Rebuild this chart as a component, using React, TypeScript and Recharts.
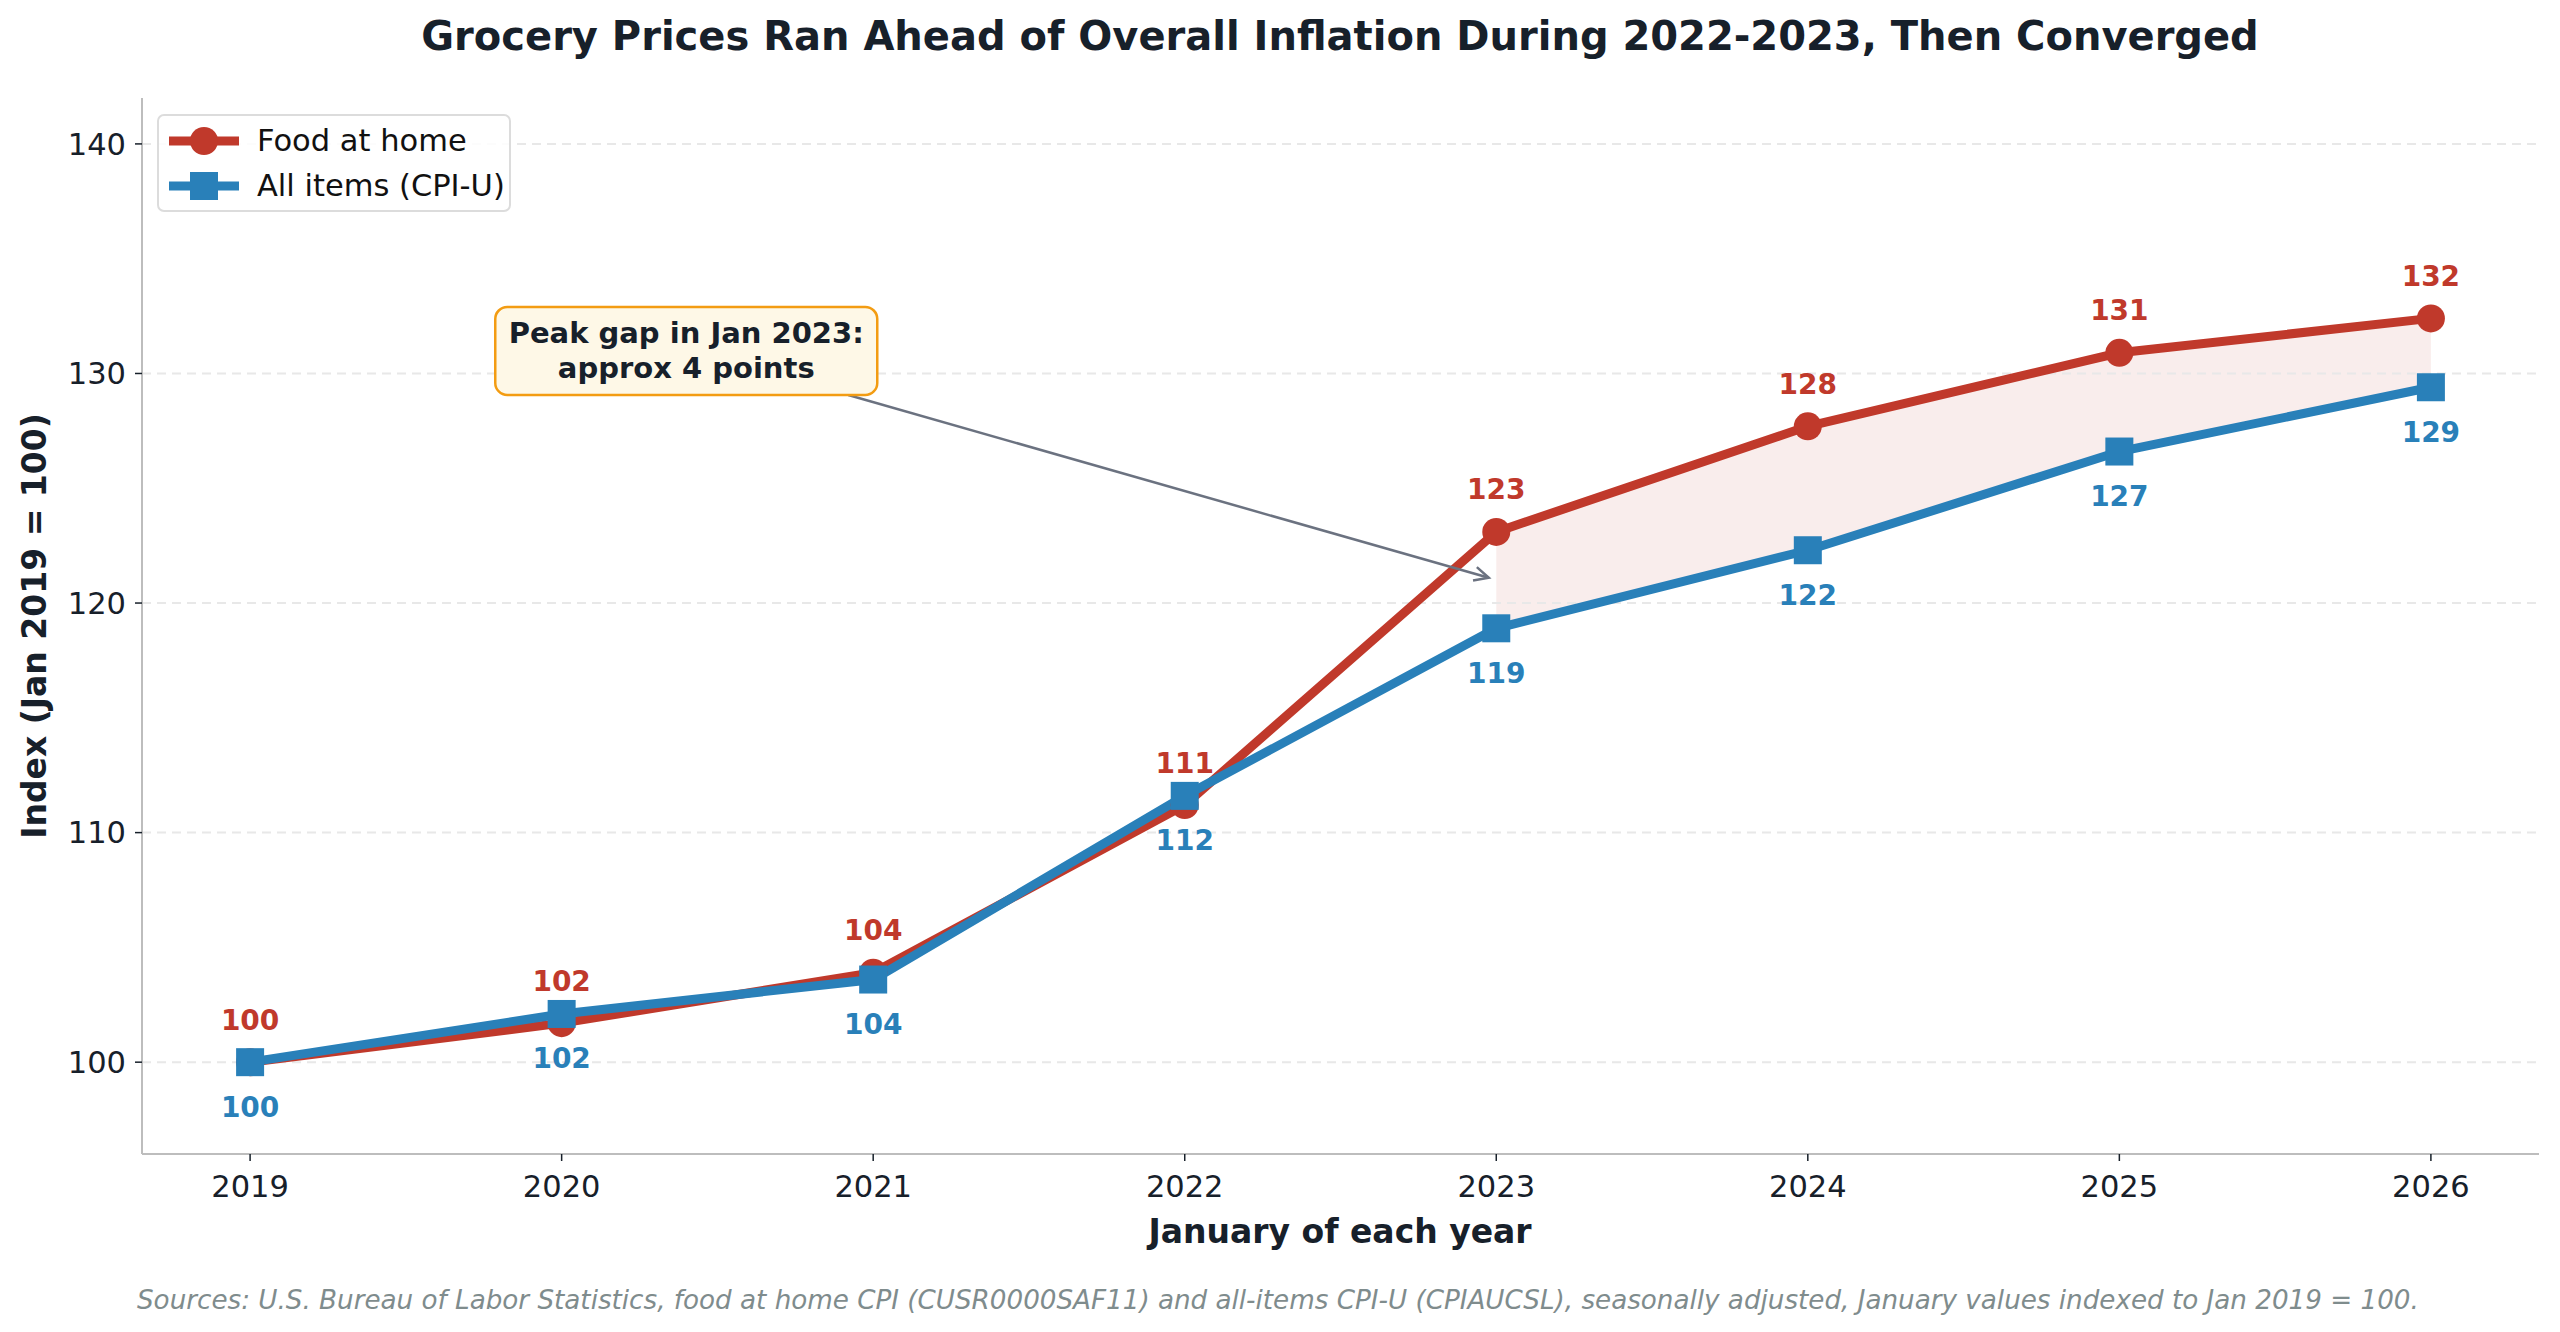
import React from 'react'
import {
  ComposedChart,
  Line,
  Area,
  XAxis,
  YAxis,
  ReferenceLine,
  ReferenceDot,
  LabelList,
} from 'recharts'

const YEARS = [2019, 2020, 2021, 2022, 2023, 2024, 2025, 2026]
const FOOD_AT_HOME = [100, 101.7, 103.9, 111.2, 123.1, 127.7, 130.9, 132.4]
const ALL_ITEMS = [100, 102.1, 103.6, 111.6, 118.9, 122.3, 126.6, 129.4]
const Y_TICKS = [100, 110, 120, 130, 140]
const GAP_FROM = 2023

const RED = '#c0392b'
const BLUE = '#2980b9'
const INK = '#17202a'
const FONT = '"DejaVu Sans", sans-serif'

const data = YEARS.map((year, i) => ({
  year,
  food: FOOD_AT_HOME[i],
  all: ALL_ITEMS[i],
  gap: year >= GAP_FROM ? [ALL_ITEMS[i], FOOD_AT_HOME[i]] : null,
}))

// annotation anchor points, in data units
const NOTE_BOX = { x: 2020.4, y: 130.98 }
const ARROW_FROM = { x: 2020.92, y: 129.06 }
const ARROW_TO = { x: 2022.976, y: 121.1 }

const FoodDot = (p: any) => (
  <circle key={`f-${p.index}`} cx={p.cx} cy={p.cy} r={14} fill={RED} />
)
const AllDot = (p: any) => (
  <rect key={`a-${p.index}`} x={p.cx - 14} y={p.cy - 14} width={28} height={28} fill={BLUE} />
)

const labelAbove = (p: any) => (
  <text
    key={`la-${p.index}`}
    x={p.x}
    y={p.y - 42}
    textAnchor="middle"
    dominantBaseline="central"
    fill={RED}
    fontSize={28}
    fontWeight="bold"
    fontFamily={FONT}
  >
    {Math.round(p.value)}
  </text>
)
const labelBelow = (p: any) => (
  <text
    key={`lb-${p.index}`}
    x={p.x}
    y={p.y + 45}
    textAnchor="middle"
    dominantBaseline="central"
    fill={BLUE}
    fontSize={28}
    fontWeight="bold"
    fontFamily={FONT}
  >
    {Math.round(p.value)}
  </text>
)

const Arrow = (p: any) => {
  const { x1, y1, x2, y2 } = p
  const a = Math.atan2(y2 - y1, x2 - x1)
  const L = 16
  const s = 0.45
  return (
    <g>
      <line x1={x1} y1={y1} x2={x2} y2={y2} stroke="#6b7280" strokeWidth={2.5} />
      <polyline
        points={`${x2 - L * Math.cos(a - s)},${y2 - L * Math.sin(a - s)} ${x2},${y2} ${x2 - L * Math.cos(a + s)},${y2 - L * Math.sin(a + s)}`}
        fill="none"
        stroke="#6b7280"
        strokeWidth={2.5}
      />
    </g>
  )
}

const NoteBox = (p: any) => (
  <g>
    <rect x={p.cx - 191} y={p.cy - 44} width={382} height={88} rx={12} fill="#fef8e7" stroke="#f39c12" strokeWidth={2.5} />
    <text x={p.cx} y={p.cy - 18} textAnchor="middle" dominantBaseline="central" fontSize={29} fontWeight="bold" fontFamily={FONT} fill={INK}>
      Peak gap in Jan 2023:
    </text>
    <text x={p.cx} y={p.cy + 17} textAnchor="middle" dominantBaseline="central" fontSize={29} fontWeight="bold" fontFamily={FONT} fill={INK}>
      approx 4 points
    </text>
  </g>
)

const LegendRow = ({ color, square, label }: { color: string; square?: boolean; label: string }) => (
  <div style={{ display: 'flex', alignItems: 'center', height: 45 }}>
    <svg width={80} height={40} style={{ marginRight: 12 }}>
      <line x1={4} y1={20} x2={74} y2={20} stroke={color} strokeWidth={9} />
      {square ? <rect x={25} y={6} width={28} height={28} fill={color} /> : <circle cx={39} cy={20} r={14} fill={color} />}
    </svg>
    <span style={{ fontSize: 30.5, color: '#111', fontFamily: FONT }}>{label}</span>
  </div>
)

export default function App() {
  return (
    <div style={{ position: 'absolute', left: 0, top: 0, width: 2560, height: 1332, background: '#fff', fontFamily: FONT }}>
      <div style={{ position: 'absolute', left: 1340, top: 36, transform: 'translate(-50%, -50%)', whiteSpace: 'nowrap', fontSize: 40, fontWeight: 'bold', color: INK }}>
        Grocery Prices Ran Ahead of Overall Inflation During 2022-2023, Then Converged
      </div>

      <ComposedChart width={2560} height={1332} data={data} margin={{ top: 98, right: 21, bottom: 118, left: 42 }}>
        {Y_TICKS.map((t) => (
          <ReferenceLine key={`g-${t}`} y={t} stroke="#e8e8e8" strokeDasharray="9 6" strokeWidth={2} />
        ))}
        <XAxis
          dataKey="year"
          type="number"
          domain={[2018.653, 2026.347]}
          ticks={YEARS}
          height={60}
          axisLine={{ stroke: '#bdbdbd', strokeWidth: 2 }}
          tickLine={{ stroke: INK, strokeWidth: 1.5 }}
          tickSize={7}
          tickMargin={14}
          tick={{ fontSize: 30.5, fill: INK, fontFamily: FONT }}
        />
        <YAxis
          type="number"
          domain={[96, 142]}
          ticks={Y_TICKS}
          width={100}
          axisLine={{ stroke: '#bdbdbd', strokeWidth: 2 }}
          tickLine={{ stroke: INK, strokeWidth: 1.5 }}
          tickSize={7}
          tickMargin={9}
          tick={{ fontSize: 30.5, fill: INK, fontFamily: FONT }}
        />
        <Area dataKey="gap" type="linear" fill={RED} fillOpacity={0.09} stroke="none" isAnimationActive={false} />
        <Line dataKey="food" type="linear" stroke={RED} strokeWidth={9} dot={FoodDot} activeDot={false} isAnimationActive={false}>
          <LabelList dataKey="food" content={labelAbove} />
        </Line>
        <Line dataKey="all" type="linear" stroke={BLUE} strokeWidth={9} dot={AllDot} activeDot={false} isAnimationActive={false}>
          <LabelList dataKey="all" content={labelBelow} />
        </Line>
        <ReferenceLine segment={[ARROW_FROM, ARROW_TO]} shape={Arrow} ifOverflow="visible" />
        <ReferenceDot x={NOTE_BOX.x} y={NOTE_BOX.y} shape={NoteBox} ifOverflow="visible" />
      </ComposedChart>

      <div style={{ position: 'absolute', left: 157, top: 114, width: 354, height: 98, boxSizing: 'border-box', border: '2px solid #dcdcdc', borderRadius: 7, background: 'rgba(255,255,255,0.85)', padding: '2px 0 0 6px' }}>
        <LegendRow color={RED} label="Food at home" />
        <LegendRow color={BLUE} square label="All items (CPI-U)" />
      </div>

      <div style={{ position: 'absolute', left: 34, top: 626, transform: 'translate(-50%, -50%) rotate(-90deg)', whiteSpace: 'nowrap', fontSize: 33, fontWeight: 'bold', color: INK }}>
        Index (Jan 2019 = 100)
      </div>
      <div style={{ position: 'absolute', left: 1340, top: 1231, transform: 'translate(-50%, -50%)', whiteSpace: 'nowrap', fontSize: 33, fontWeight: 'bold', color: INK }}>
        January of each year
      </div>
      <div style={{ position: 'absolute', left: 137, top: 1300, transform: 'translateY(-50%)', whiteSpace: 'nowrap', fontSize: 26.2, fontStyle: 'italic', color: '#7f8c8d' }}>
        Sources: U.S. Bureau of Labor Statistics, food at home CPI (CUSR0000SAF11) and all-items CPI-U (CPIAUCSL), seasonally adjusted, January values indexed to Jan 2019 = 100.
      </div>
    </div>
  )
}
